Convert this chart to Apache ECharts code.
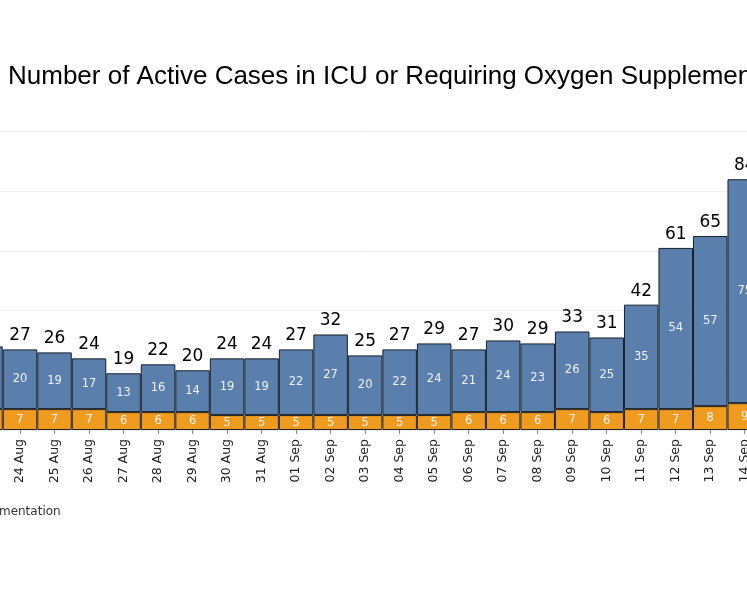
<!doctype html>
<html>
<head>
<meta charset="utf-8">
<title>Active Cases in ICU or Requiring Oxygen Supplementation</title>
<script src="https://cdn.jsdelivr.net/npm/echarts@6/dist/echarts.min.js"></script>
<style>
  html, body { margin: 0; padding: 0; overflow: hidden; background: #fff; }
  /* the view is a crop of a wider chart, so the chart box sticks out on both sides */
  #chart { position: absolute; left: -320px; top: 0; width: 1167px; height: 598px; }
</style>
</head>
<body>
<div id="chart"></div>
<script>
// dates shown on the x axis
var dates = ['23 Aug', '24 Aug', '25 Aug', '26 Aug', '27 Aug', '28 Aug', '29 Aug', '30 Aug', '31 Aug',
  '01 Sep', '02 Sep', '03 Sep', '04 Sep', '05 Sep', '06 Sep', '07 Sep', '08 Sep', '09 Sep', '10 Sep',
  '11 Sep', '12 Sep', '13 Sep', '14 Sep'];
// in ICU (orange, bottom)
var icu = [7, 7, 7, 7, 6, 6, 6, 5, 5, 5, 5, 5, 5, 5, 6, 6, 6, 7, 6, 7, 7, 8, 9];
// requiring oxygen supplementation (blue, top)
var oxygen = [21, 20, 19, 17, 13, 16, 14, 19, 19, 22, 27, 20, 22, 24, 21, 24, 23, 26, 25, 35, 54, 57, 75];
// y axis ticks
var yTicks = [0, 20, 40, 60, 80, 100];

var totals = [];
for (var i = 0; i < dates.length; i++) {
  totals.push(icu[i] + oxygen[i]);
}
// empty series stacked on top, only used to carry the total label
var zeros = dates.map(function() { return 0; });

var chart = echarts.init(document.getElementById('chart'));

var inLabel = {
  show: true,
  position: 'inside',
  color: '#eef1f5',
  fontSize: 11.5,
  fontFamily: 'DejaVu Sans'
};

chart.setOption({
  animation: false,
  title: {
    text: 'Number of Active Cases in ICU or Requiring Oxygen Supplementation',
    left: 328,
    top: 64,
    padding: 0,
    textStyle: {
      fontFamily: 'Liberation Sans',
      fontSize: 26,
      fontWeight: 'normal',
      color: '#000'
    }
  },
  legend: {
    data: ['In ICU', 'Requiring Oxygen Supplementation'],
    left: 54,
    top: 499,
    itemWidth: 25,
    itemHeight: 14,
    itemGap: 10,
    textStyle: { fontFamily: 'DejaVu Sans', fontSize: 12, color: '#333' }
  },
  grid: {
    left: 288.25,
    right: 85,
    top: 131.5,
    bottom: 168
  },
  xAxis: {
    type: 'category',
    data: dates,
    axisLine: { show: false },
    axisTick: { show: true, alignWithLabel: true, length: 4, lineStyle: { color: '#888' } },
    axisLabel: {
      rotate: 90,
      margin: 9,
      fontFamily: 'DejaVu Sans',
      fontSize: 12.5,
      color: '#222'
    }
  },
  yAxis: {
    type: 'value',
    min: yTicks[0],
    max: yTicks[yTicks.length - 1],
    interval: yTicks[1] - yTicks[0],
    axisLine: { show: false },
    axisTick: { show: false },
    axisLabel: { show: false },
    splitLine: { lineStyle: { color: '#f0f0f0', width: 1 } }
  },
  series: [
    {
      name: 'In ICU',
      type: 'bar',
      stack: 'cases',
      barCategoryGap: '0%',
      data: icu,
      itemStyle: { color: '#ef9b20', borderColor: '#222', borderWidth: 1 },
      label: inLabel
    },
    {
      name: 'Requiring Oxygen Supplementation',
      type: 'bar',
      stack: 'cases',
      barCategoryGap: '0%',
      data: oxygen,
      itemStyle: { color: '#5b7fad', borderColor: '#18202b', borderWidth: 1 },
      label: inLabel
    },
    {
      name: 'Total',
      type: 'bar',
      stack: 'cases',
      barCategoryGap: '0%',
      data: zeros,
      itemStyle: { color: 'rgba(0,0,0,0)', borderWidth: 0 },
      label: {
        show: true,
        position: 'top',
        distance: 5,
        color: '#000',
        fontSize: 17,
        fontFamily: 'DejaVu Sans',
        formatter: function(p) { return totals[p.dataIndex]; }
      }
    }
  ]
});
</script>
</body>
</html>
